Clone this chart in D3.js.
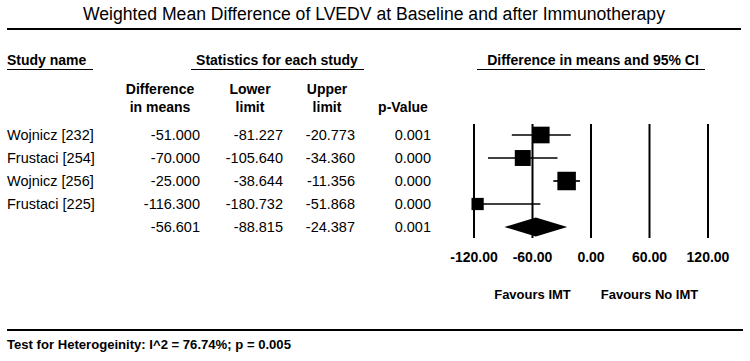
<!DOCTYPE html>
<html lang="en">
  <head>
    <meta charset="UTF-8" />
    <title>Forest plot LVEDV</title>
    <script src="https://cdn.jsdelivr.net/npm/d3@7/dist/d3.min.js"></script>
    <style>
      body { margin: 0; background: #fff; }
      text { font-family: "Liberation Sans", Arial, sans-serif; fill: #000; }
    </style>
  </head>
  <body></body>
  <script>
    // data
    const studies = ["Wojnicz [232]", "Frustaci [254]", "Wojnicz [256]", "Frustaci [225]"];
    const diffs = [-51.0, -70.0, -25.0, -116.3];
    const lowers = [-81.227, -105.64, -38.644, -180.732];
    const uppers = [-20.773, -34.36, -11.356, -51.868];
    const pValues = ["0.001", "0.000", "0.000", "0.000"];
    const weights = [27.2, 24.9, 33.6, 14.7]; // relative weight (%)
    const pooled = { diff: -56.601, lower: -88.815, upper: -24.387, p: "0.001" };
    const ticks = [-120, -60, 0, 60, 120];
    const title = "Weighted Mean Difference of LVEDV at Baseline and after Immunotherapy";
    const heterogeneity = "Test for Heterogeinity: I^2 = 76.74%; p = 0.005";

    const width = 750;
    const height = 361;
    const svg = d3
      .select("body")
      .append("svg")
      .attr("width", width)
      .attr("height", height);

    // plain hyphen for negatives, like the original
    const locale = d3.formatLocale({
      decimal: ".", thousands: ",", grouping: [3], currency: ["", ""], minus: "-",
    });
    const fmt = locale.format(".3f");
    const fmtTick = locale.format(".2f");

    const x = d3.scaleLinear().domain([-120, 120]).range([474, 708]);
    const y = d3.scalePoint().domain(d3.range(studies.length + 1)).range([135, 227]);
    const side = d3.scaleSqrt().domain([0, d3.max(weights)]).range([0, 18.5]);

    // title + rules
    svg.append("text")
      .attr("x", 374).attr("y", 20)
      .attr("text-anchor", "middle")
      .style("font-size", "17.6px")
      .text(title);
    svg.append("line")
      .attr("x1", 7).attr("x2", 741).attr("y1", 29).attr("y2", 29)
      .attr("stroke", "#000").attr("stroke-width", 2);
    svg.append("line")
      .attr("x1", 7).attr("x2", 743).attr("y1", 330).attr("y2", 330)
      .attr("stroke", "#000").attr("stroke-width", 2);
    svg.append("text")
      .attr("x", 7).attr("y", 349)
      .style("font-size", "13.1px").style("font-weight", "bold")
      .text(heterogeneity);

    // group headers with underline
    const groups = [
      { label: "Study name", x1: 7, x2: 93, anchor: "start", tx: 7 },
      { label: "Statistics for each study", x1: 191, x2: 364, anchor: "middle", tx: 277 },
      { label: "Difference in means and 95% CI", x1: 477, x2: 705, anchor: "middle", tx: 593 },
    ];
    groups.forEach((g) => {
      svg.append("text")
        .attr("x", g.tx).attr("y", 65)
        .attr("text-anchor", g.anchor)
        .style("font-size", "14px").style("font-weight", "bold")
        .text(g.label);
      svg.append("line")
        .attr("x1", g.x1).attr("x2", g.x2).attr("y1", 69.5).attr("y2", 69.5)
        .attr("stroke", "#000").attr("stroke-width", 1);
    });

    // column headers
    const cols = [
      { l1: "Difference", l2: "in means", cx: 160, right: 200 },
      { l1: "Lower", l2: "limit", cx: 250, right: 283 },
      { l1: "Upper", l2: "limit", cx: 327, right: 355 },
      { l1: "", l2: "p-Value", cx: 403, right: 431 },
    ];
    cols.forEach((c) => {
      [c.l1, c.l2].forEach((t, i) => {
        svg.append("text")
          .attr("x", c.cx).attr("y", 94 + i * 18)
          .attr("text-anchor", "middle")
          .style("font-size", "14px").style("font-weight", "bold")
          .text(t);
      });
    });

    // table rows
    const rows = studies.map((s, i) => ({
      name: s, cells: [fmt(diffs[i]), fmt(lowers[i]), fmt(uppers[i]), pValues[i]],
    }));
    rows.push({ name: "", cells: [fmt(pooled.diff), fmt(pooled.lower), fmt(pooled.upper), pooled.p] });

    rows.forEach((r, i) => {
      svg.append("text")
        .attr("x", 7).attr("y", y(i) + 5)
        .style("font-size", "14.5px")
        .text(r.name);
      r.cells.forEach((v, j) => {
        svg.append("text")
          .attr("x", cols[j].right).attr("y", y(i) + 5)
          .attr("text-anchor", "end")
          .style("font-size", "14.5px")
          .text(v);
      });
    });

    // reference lines at ticks
    svg.selectAll("line.grid")
      .data(ticks)
      .enter()
      .append("line")
      .attr("class", "grid")
      .attr("x1", (d) => x(d)).attr("x2", (d) => x(d))
      .attr("y1", 124).attr("y2", 238)
      .attr("stroke", "#000").attr("stroke-width", 2);

    // tick labels
    svg.selectAll("text.tick")
      .data(ticks)
      .enter()
      .append("text")
      .attr("class", "tick")
      .attr("x", (d) => x(d)).attr("y", 262)
      .attr("text-anchor", "middle")
      .style("font-size", "14px").style("font-weight", "bold")
      .text((d) => fmtTick(d));

    // favours labels
    [["Favours IMT", -60], ["Favours No IMT", 60]].forEach(([t, v]) => {
      svg.append("text")
        .attr("x", x(v)).attr("y", 299)
        .attr("text-anchor", "middle")
        .style("font-size", "13px").style("font-weight", "bold")
        .text(t);
    });

    // CI whiskers (clipped to axis range)
    const clamp = (v) => Math.max(-120, Math.min(120, v));
    svg.selectAll("line.ci")
      .data(studies)
      .enter()
      .append("line")
      .attr("class", "ci")
      .attr("x1", (d, i) => x(clamp(lowers[i])))
      .attr("x2", (d, i) => x(clamp(uppers[i])))
      .attr("y1", (d, i) => y(i)).attr("y2", (d, i) => y(i))
      .attr("stroke", "#000").attr("stroke-width", 1.7);

    // boxes
    svg.selectAll("rect.box")
      .data(studies)
      .enter()
      .append("rect")
      .attr("class", "box")
      .attr("x", (d, i) => x(diffs[i]) - side(weights[i]) / 2)
      .attr("y", (d, i) => y(i) - side(weights[i]) / 2)
      .attr("width", (d, i) => side(weights[i]))
      .attr("height", (d, i) => side(weights[i]))
      .attr("fill", "#000");

    // pooled diamond
    const py = y(studies.length);
    const dh = 9.5;
    svg.append("path")
      .attr("d", d3.line()([
        [x(pooled.lower), py],
        [x(pooled.diff), py - dh],
        [x(pooled.upper), py],
        [x(pooled.diff), py + dh],
      ]) + "Z")
      .attr("fill", "#000");
  </script>
</html>
